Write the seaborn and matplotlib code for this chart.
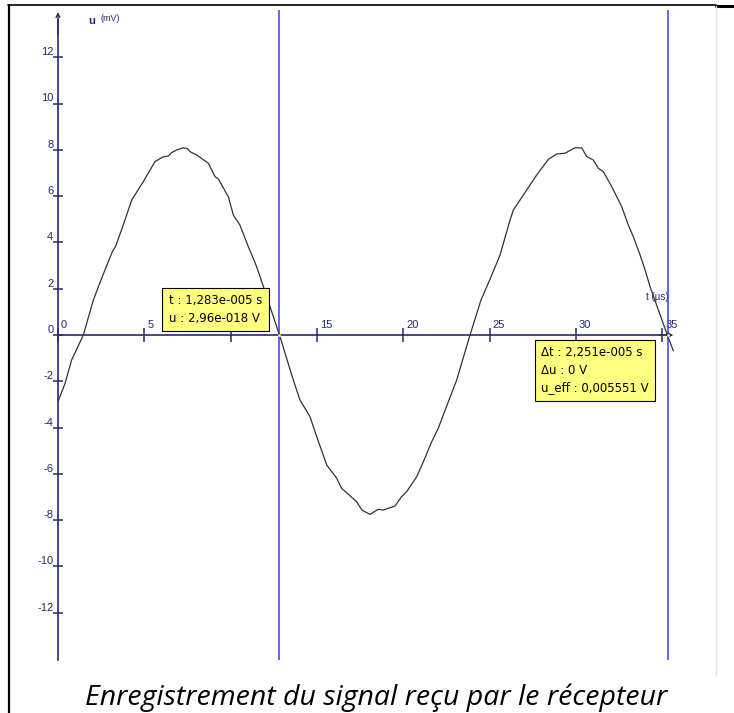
import numpy as np
import matplotlib
matplotlib.use("Agg")
import matplotlib.pyplot as plt
from matplotlib.lines import Line2D
import pandas as pd
import seaborn as sns

# signal (t in µs, u in mV)
t_us = [0.0, 0.41, 0.79, 1.47, 2.05, 2.45, 3.15, 3.35, 3.78, 4.27, 4.94, 5.62,
        6.10, 6.39, 6.58, 6.87, 7.26, 7.49, 7.65, 8.03, 8.71, 9.10, 9.29, 9.87,
        10.16, 10.54, 11.03, 11.51, 11.90, 12.83, 13.63, 14.02, 14.60, 14.89,
        15.57, 16.15, 16.43, 17.30, 17.60, 18.08, 18.35, 18.56, 18.85, 19.52,
        19.91, 20.20, 20.78, 21.17, 21.65, 22.03, 22.40, 23.10, 23.87, 24.50,
        25.13, 25.61, 26.19, 26.38, 27.15, 27.73, 28.41, 28.89, 29.37, 29.95,
        30.34, 30.63, 31.01, 31.30, 31.59, 32.08, 32.66, 33.04, 33.33, 33.72,
        34.01, 34.30, 35.30, 35.65]
u_mv = [-2.88, -2.09, -1.08, 0.0, 1.51, 2.30, 3.60, 3.85, 4.75, 5.83, 6.62, 7.49,
        7.70, 7.73, 7.88, 7.99, 8.09, 8.05, 7.92, 7.78, 7.42, 6.84, 6.74, 5.97,
        5.18, 4.75, 3.81, 2.95, 2.09, 0.0, -1.94, -2.81, -3.53, -4.18,
        -5.62, -6.19, -6.62, -7.20, -7.56, -7.75, -7.62, -7.53, -7.56, -7.39,
        -6.98, -6.77, -6.12, -5.47, -4.61, -4.03, -3.30, -1.94, 0.0, 1.50,
        2.59, 3.46, 4.97, 5.40, 6.26, 6.91, 7.59, 7.82, 7.85, 8.09,
        8.08, 7.71, 7.56, 7.20, 7.06, 6.41, 5.54, 4.75, 4.25, 3.46,
        2.81, 2.09, 0.0, -0.68]

x_ticks = [0, 5, 10, 15, 20, 25, 30, 35]
x_hidden = [10]  # label sits under the cursor box in the screenshot
y_ticks = [-12, -10, -8, -6, -4, -2, 0, 2, 4, 6, 8, 10, 12]
cursor_t = [12.83, 35.34]
cursor_text = "t : 1,283e-005 s\nu : 2,96e-018 V"
delta_text = "Δt : 2,251e-005 s\nΔu : 0 V\nu_eff : 0,005551 V"
caption = "Enregistrement du signal reçu par le récepteur"

sns.set_style("white")
plt.rcParams['font.family'] = ['Liberation Sans', 'DejaVu Sans']

axis_col = '#28286e'
blue = '#3c3cff'

fig = plt.figure(figsize=(7.34, 7.13), dpi=100)
ax = fig.add_axes([20 / 734, 53 / 713, 696 / 734, 650 / 713])
ax.set_xlim(-2.20, 38.12)
ax.set_ylim(-14.04, 14.04)

df = pd.DataFrame({'t': t_us, 'u': u_mv})
sns.lineplot(data=df, x='t', y='u', ax=ax, color='#333333', lw=0.9,
             sort=False, zorder=3)

for tc in cursor_t:
    ax.axvline(tc, color=blue, lw=1.1, zorder=2)
ax.scatter(cursor_t, [0, 0], s=4, color='#ffff40', zorder=4, lw=0)

# axes through origin
for s in ['top', 'right']:
    ax.spines[s].set_visible(False)
ax.spines['left'].set_position('zero')
ax.spines['bottom'].set_position('zero')
ax.spines['left'].set_bounds(-14.04, 13.6)
ax.spines['bottom'].set_bounds(0, 35.4)
for s in ['left', 'bottom']:
    ax.spines[s].set_color(axis_col)
    ax.spines[s].set_linewidth(1.2)
ax.annotate('', xy=(0, 13.95), xytext=(0, 13.0),
            arrowprops=dict(arrowstyle='->', color=axis_col, lw=1.0,
                            shrinkA=0, shrinkB=0, mutation_scale=7))
ax.annotate('', xy=(35.65, 0), xytext=(34.8, 0),
            arrowprops=dict(arrowstyle='->', color=axis_col, lw=1.0,
                            shrinkA=0, shrinkB=0, mutation_scale=7))

ax.set_xticks(x_ticks)
ax.set_yticks(y_ticks)
ax.set_xticklabels([])
ax.set_yticklabels([])
ax.tick_params(axis='x', bottom=True, direction='inout', length=10, width=1.1,
               color=axis_col)
ax.tick_params(axis='y', left=True, direction='inout', length=7, width=1.1,
               color=axis_col)
ax.set_xlabel('')
ax.set_ylabel('')

for v in x_ticks:
    if v in x_hidden:
        continue
    ax.annotate(str(v), xy=(v, 0), xytext=(2.2, 5), textcoords='offset points',
                ha='left', va='baseline', fontsize=8, color=axis_col, zorder=1)
for v in y_ticks:
    ax.annotate(str(v), xy=(0, v), xytext=(-3.4, 1.5), textcoords='offset points',
                ha='right', va='baseline', fontsize=8, color=axis_col, zorder=1)

ax.text(1.74, 13.45, 'u', fontsize=8, fontweight='bold', color=axis_col)
ax.text(2.45, 13.55, '(mV)', fontsize=6.5, color=axis_col)
ax.text(34.05, 1.5, 't (µs)', fontsize=7, color=axis_col, zorder=1)

box = dict(boxstyle='square,pad=0.55', fc='#ffff80', ec='black', lw=0.8)
ax.text(9.12, 1.11, cursor_text, ha='center', va='center', fontsize=8.5,
        family='DejaVu Sans', linespacing=1.45, multialignment='left',
        color='black', bbox=box, zorder=6)
ax.text(31.11, -1.53, delta_text, ha='center', va='center', fontsize=8.5,
        family='DejaVu Sans', linespacing=1.45, multialignment='left',
        color='black', bbox=box, zorder=6)

# page frame around the screenshot
fig.add_artist(Line2D([8 / 734, 716 / 734], [708 / 713, 708 / 713], color='black', lw=1.2))
fig.add_artist(Line2D([716 / 734, 1], [707.5 / 713, 707.5 / 713], color='black', lw=2.2))
fig.add_artist(Line2D([9 / 734, 9 / 734], [0, 708 / 713], color='black', lw=1.6))
fig.add_artist(Line2D([716 / 734, 716 / 734], [38 / 713, 707 / 713], color='#e4e4dc', lw=1.0))

fig.text(376 / 734, 8 / 713, caption, ha='center', va='baseline', fontsize=20.5,
         style='italic', color='black', family=['Open Sans', 'DejaVu Sans'])

fig.savefig('out.png', dpi=100)
